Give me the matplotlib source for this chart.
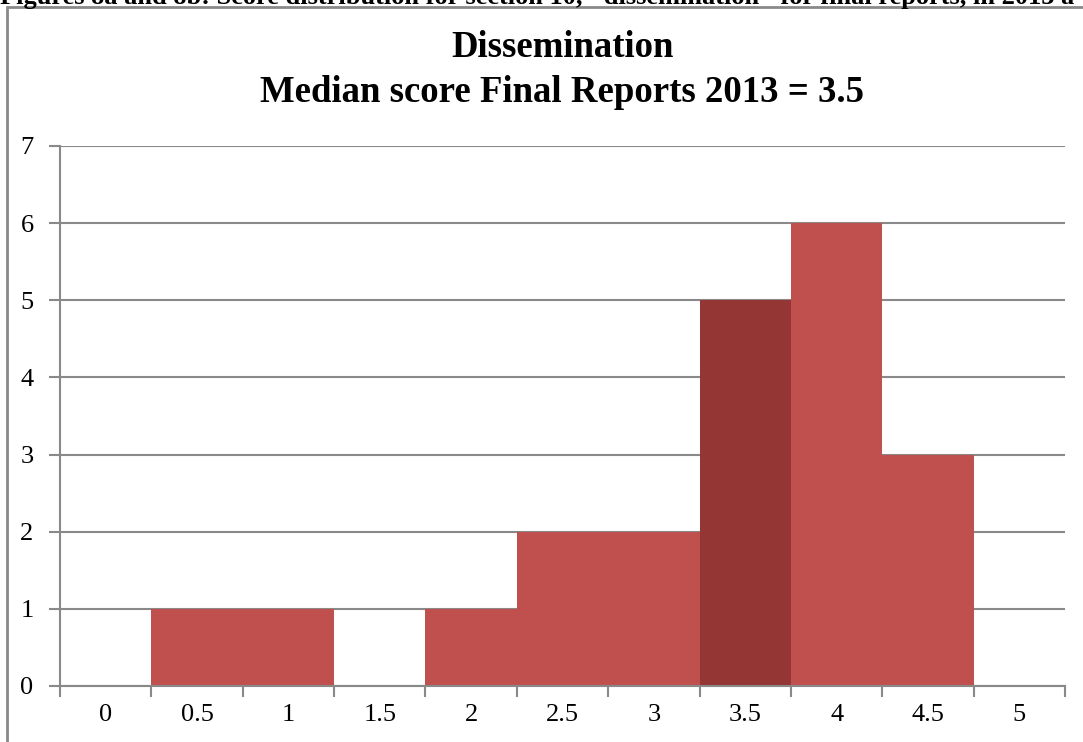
import numpy as np
import matplotlib
matplotlib.use('Agg')
import matplotlib.pyplot as plt
from matplotlib.patches import Rectangle

scores = ['0', '0.5', '1', '1.5', '2', '2.5', '3', '3.5', '4', '4.5', '5']
counts = [0, 1, 1, 0, 1, 2, 2, 5, 6, 3, 0]
median_score = '3.5'

caption = 'Figures 8a and 8b: Score distribution for section 10, "dissemination" for final reports, in 2013 a'
title = 'Dissemination\nMedian score Final Reports 2013 = 3.5'

bar_color = '#C0504D'
median_color = '#943634'
grey = '#898989'

plt.rcParams['font.family'] = ['Liberation Serif', 'DejaVu Serif']

W, H = 1083, 742
fig = plt.figure(figsize=(W / 100, H / 100), dpi=100)
ax = fig.add_axes([60 / W, 1 - 686 / H, (1065 - 60) / W, (686 - 146) / H])

x = np.arange(len(scores))
colors = [median_color if s == median_score else bar_color for s in scores]
ax.bar(x, counts, width=1.0, color=colors, zorder=2)

ax.set_xlim(-0.5, len(scores) - 0.5)
ax.set_ylim(0, 7)
ax.set_yticks(range(0, 8))
ax.yaxis.grid(True, color=grey, linewidth=1.5, zorder=1)
ax.set_axisbelow(True)

# ticks on category boundaries, labels in the middle
ax.set_xticks(np.arange(-0.5, len(scores)))
ax.set_xticklabels([])
ax.set_xticks(x, minor=True)
ax.set_xticklabels(scores, minor=True)
ax.tick_params(axis='x', which='major', direction='out', length=8, width=1.5, color=grey)
ax.tick_params(axis='x', which='minor', length=0, pad=13, labelsize=19)
ax.tick_params(axis='y', direction='out', length=8, width=1.5, color=grey, pad=11, labelsize=19)

for side in ['top', 'right']:
    ax.spines[side].set_visible(False)
for side in ['left', 'bottom']:
    ax.spines[side].set_color(grey)
    ax.spines[side].set_linewidth(1.5)

ax.set_title(title, fontsize=26.5, fontweight='bold', pad=32, linespacing=1.35)

# chart border (runs off the page on the right and bottom)
fig.patches.append(Rectangle((7 / W, -0.1), 1.2, 1 - 7 / H + 0.1, transform=fig.transFigure,
                             fill=False, edgecolor=grey, linewidth=2, zorder=0))
fig.text(0, 1 - 4 / H, caption, fontsize=19, fontweight='bold', va='baseline', ha='left')

fig.savefig('out.png', dpi=100)
